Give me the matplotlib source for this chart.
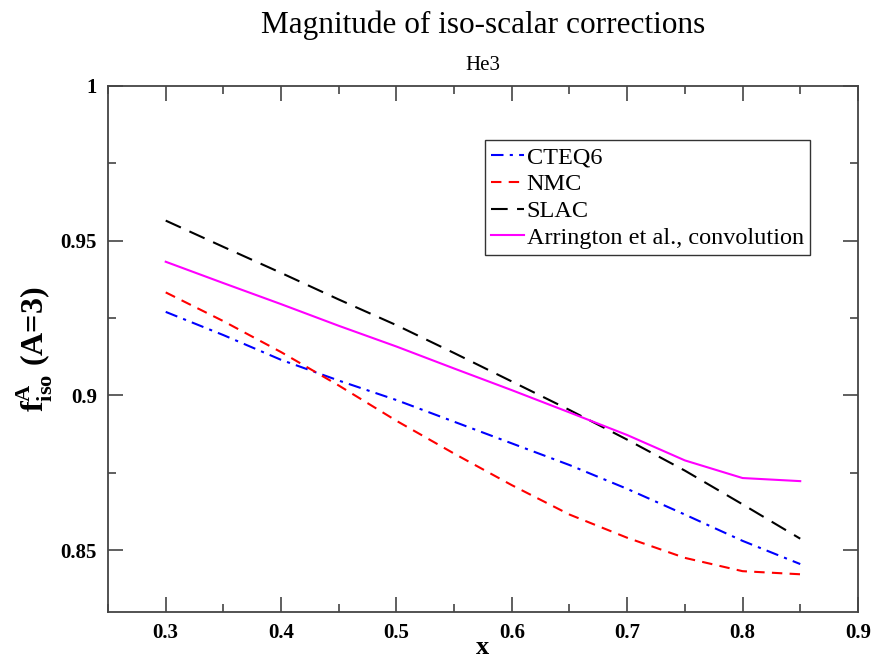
import numpy as np
import matplotlib
matplotlib.use("Agg")
import matplotlib.pyplot as plt
from matplotlib.ticker import MultipleLocator

plt.rcParams['font.family'] = ['Liberation Serif', 'DejaVu Serif']
plt.rcParams['mathtext.fontset'] = 'custom'
plt.rcParams['mathtext.rm'] = 'Liberation Serif'
plt.rcParams['mathtext.bf'] = 'Liberation Serif:bold'

x = [0.30, 0.35, 0.40, 0.45, 0.50, 0.55, 0.60, 0.65, 0.70, 0.75, 0.80, 0.85]
cteq6 = [0.9270, 0.9195, 0.9115, 0.9048, 0.8985, 0.8915, 0.8845, 0.8775, 0.8698, 0.8615, 0.8530, 0.8455]
nmc = [0.9333, 0.9240, 0.9140, 0.9032, 0.8918, 0.8812, 0.8710, 0.8615, 0.8540, 0.8475, 0.8432, 0.8422]
slac = [0.9565, 0.9480, 0.9396, 0.9310, 0.9227, 0.9137, 0.9045, 0.8953, 0.8857, 0.8757, 0.8648, 0.8537]
arrington = [0.9432, 0.9363, 0.9295, 0.9225, 0.9158, 0.9087, 0.9017, 0.8945, 0.8872, 0.8790, 0.8733, 0.8723]

fig = plt.figure(figsize=(8.74, 6.6), dpi=100)
ax = fig.add_axes([0.1236, 0.0727, 0.858, 0.797])

ax.plot(x, cteq6, color='blue', lw=1.5, ls=(0, (6, 3, 1.5, 3)), label='CTEQ6')
ax.plot(x, nmc, color='red', lw=1.5, ls=(0, (5, 3.5)), label='NMC')
ax.plot(x, slac, color='black', lw=1.5, ls=(0, (8, 4.5)), label='SLAC')
ax.plot(x, arrington, color='magenta', lw=1.5, ls='-', label='Arrington et al., convolution')

ax.set_xlim(0.25, 0.9)
ax.set_ylim(0.83, 1.0)
ax.xaxis.set_minor_locator(MultipleLocator(0.05))
ax.yaxis.set_minor_locator(MultipleLocator(0.025))
ax.set_yticks([0.85, 0.9, 0.95, 1.0])
ax.set_yticklabels(['0.85', '0.9', '0.95', '1'])
ax.set_xticks([0.3, 0.4, 0.5, 0.6, 0.7, 0.8, 0.9])
ax.set_xticklabels(['0.3', '0.4', '0.5', '0.6', '0.7', '0.8', '0.9'])

ax.tick_params(which='both', direction='in', top=True, right=True, color='#444444', width=1.2)
ax.tick_params(which='major', length=10.5, labelsize=15, pad=8)
ax.tick_params(which='minor', length=5.5)
for lab in ax.get_xticklabels() + ax.get_yticklabels():
    lab.set_fontweight('bold')
for sp in ax.spines.values():
    sp.set_linewidth(1.3)
    sp.set_color('#444444')

ax.set_xlabel('x', fontsize=19, fontweight='bold', va='center')
ax.xaxis.set_label_coords(0.5, -0.068)
ax.set_ylabel(r'$\mathbf{f}^{\mathbf{A}}_{\mathbf{iso}}$ (A=3)', fontsize=23, fontweight='bold', va='center')
ax.yaxis.set_label_coords(-0.098, 0.5)

fig.text(0.5527, 0.962, 'Magnitude of iso-scalar corrections', ha='center', va='center', fontsize=22.5)
fig.text(0.5527, 0.9015, 'He3', ha='center', va='center', fontsize=15)

leg = ax.legend(loc='upper left', bbox_to_anchor=(0.503, 0.897), fontsize=17.5, frameon=True,
                fancybox=False, handlelength=1.35, handletextpad=0.1, borderpad=0.25,
                borderaxespad=0, labelspacing=0.2)
leg.get_frame().set_edgecolor('black')
leg.get_frame().set_linewidth(1.0)

fig.savefig('out.png', dpi=100)
